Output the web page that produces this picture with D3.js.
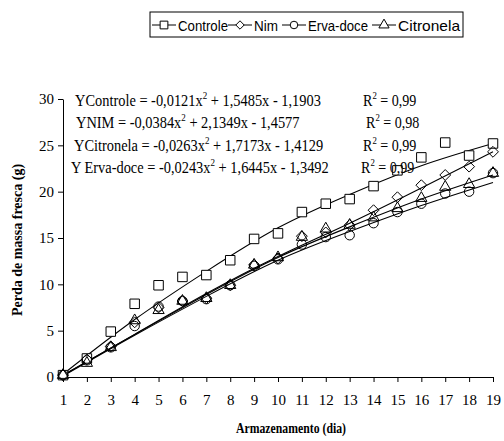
<!DOCTYPE html>
<html><head><meta charset="utf-8">
<script src="https://cdn.jsdelivr.net/npm/d3@7"></script>
<style>body{margin:0;background:#fff}svg{display:block}</style>
</head><body>
<script>
// ---- data ----
const days = [1,2,3,4,5,6,7,8,9,10,11,12,13,14,15,16,17,18,19];
const controle  = [0.2,2.0,4.9,7.9,9.9,10.8,11.0,12.6,14.9,15.5,17.8,18.7,19.2,20.6,22.3,23.7,25.3,23.9,25.2];
const nim       = [0.2,1.9,3.3,5.9,7.5,8.2,8.5,9.9,12.1,12.8,15.2,15.6,16.4,18.0,19.4,20.7,21.8,22.7,24.3];
const ervaDoce  = [0.2,1.8,3.2,5.5,7.6,8.2,8.4,9.9,12.0,12.7,14.3,15.1,15.3,16.6,17.8,18.7,19.8,20.0,22.0];
const citronela = [0.2,1.5,3.2,6.1,7.2,8.2,8.5,9.9,12.1,12.9,15.1,16.0,16.4,17.2,18.2,19.3,20.5,20.8,22.0];
// trendlines
const trendDays      = [1,4,7,10,13,16,19];
const trendControle  = [0.3,6.2,11.4,16.1,19.7,22.8,25.2];
const trendNim       = [0.2,4.6,9.0,13.0,16.6,20.4,24.3];
const trendCitronela = [0.2,4.6,8.9,12.9,16.2,19.2,21.8];
const trendErva      = [0.1,4.5,8.7,12.6,15.7,18.5,21.0];
const yTicks = [0,5,10,15,20,25,30];
const legendNames = ["Controle","Nim","Erva-doce","Citronela"];
const equations = [
  {lhs:"YControle = -0,0121x", rest:" + 1,5485x - 1,1903", r2:"0,99"},
  {lhs:"YNIM = -0,0384x", rest:" + 2,1349x - 1,4577", r2:"0,98"},
  {lhs:"YCitronela = -0,0263x", rest:" + 1,7173x - 1,4129", r2:"0,99"},
  {lhs:"Y Erva-doce = -0,0243x", rest:" + 1,6445x - 1,3492", r2:"0,99"}
];
const xTitle = "Armazenamento (dia)";
const yTitle = "Perda de massa fresca (g)";

// ---- layout ----
const W = 504, H = 441;
const svg = d3.select("body").append("svg").attr("width", W).attr("height", H);
const x = d3.scaleLinear().domain([1,19]).range([63,493]);
const y = d3.scaleLinear().domain([0,30]).range([377,99]);
const serif = "'Liberation Serif','Times New Roman',serif";
const sans = "'Liberation Sans',Arial,sans-serif";

// axes
const xAxis = d3.axisBottom(x).tickValues(days).tickSize(5).tickSizeOuter(0).tickPadding(12).tickFormat(d3.format("d"));
const gx = svg.append("g").attr("transform","translate(0,377)").call(xAxis);
gx.selectAll("text").attr("font-family", serif).attr("font-size", 15).attr("fill","#000");
gx.selectAll("line,path").attr("stroke","#000");
const yAxis = d3.axisLeft(y).tickValues(yTicks).tickSize(5).tickSizeOuter(0).tickPadding(4);
const gy = svg.append("g").attr("transform","translate(63,0)").call(yAxis);
gy.selectAll("text").attr("font-family", serif).attr("font-size", 15).attr("fill","#000");
gy.selectAll("line,path").attr("stroke","#000");

// titles
svg.append("text").attr("x",236).attr("y",433)
  .attr("textLength",110).attr("lengthAdjust","spacingAndGlyphs")
  .attr("font-family",serif).attr("font-weight","bold").attr("font-size",15).text(xTitle);
svg.append("text").attr("transform","translate(22,240) rotate(-90)").attr("text-anchor","middle")
  .attr("font-family",serif).attr("font-weight","bold").attr("font-size",14).text(yTitle);

// trendlines
const line = d3.line().x((d,i)=>x(trendDays[i])).y(d=>y(d)).curve(d3.curveNatural);
[trendControle, trendNim, trendCitronela, trendErva].forEach(t=>{
  svg.append("path").attr("d", line(t)).attr("fill","none").attr("stroke","#000").attr("stroke-width",1.1);
});

// markers
const symType = {"Controle":d3.symbolSquare,"Nim":d3.symbolDiamond2,"Erva-doce":d3.symbolCircle,"Citronela":d3.symbolTriangle};
const symSize = {"Controle":90,"Nim":75,"Erva-doce":70,"Citronela":55};
const seriesList = [["Controle",controle],["Nim",nim],["Erva-doce",ervaDoce],["Citronela",citronela]];
seriesList.forEach(([name, vals])=>{
  svg.append("g").selectAll("path").data(vals).join("path")
    .attr("d", d3.symbol().type(symType[name]).size(symSize[name])())
    .attr("transform",(d,i)=>`translate(${x(days[i])},${y(d)})`)
    .attr("fill", name==="Controle" ? "#fff" : "none")
    .attr("stroke","#000").attr("stroke-width",1);
});

// equations
const eqG = svg.append("g").attr("font-family",serif).attr("font-size",16).attr("fill","#000");
const eqX = [75,76,74,71], eqY = [106,128,151,173], r2X = [363,366,363,361];
equations.forEach((e,i)=>{
  const t = eqG.append("text").attr("transform",`translate(${eqX[i]},${eqY[i]}) scale(0.9,1)`).attr("fill","#000");
  t.append("tspan").text(e.lhs);
  t.append("tspan").attr("font-size",10).attr("dy",-7).text("2");
  t.append("tspan").attr("dy",7).text(e.rest);
  const r = eqG.append("text").attr("transform",`translate(${r2X[i]},${eqY[i]}) scale(0.88,1)`).attr("fill","#000");
  r.append("tspan").text("R");
  r.append("tspan").attr("font-size",10).attr("dy",-7).text("2");
  r.append("tspan").attr("dy",7).text(" = " + e.r2);
});

// legend
const lg = svg.append("g");
lg.append("rect").attr("x",150).attr("y",12).attr("width",313).attr("height",25)
  .attr("fill","#fff").attr("stroke","#000").attr("stroke-width",1);
const legX = [152, 228, 282, 372];
const legTextW = [50, 24, 60, 62];
legendNames.forEach((n,i)=>{
  const g = lg.append("g").attr("transform",`translate(${legX[i]},25)`);
  g.append("line").attr("x1",0).attr("x2",24).attr("y1",0).attr("y2",0).attr("stroke","#000");
  g.append("path").attr("d", d3.symbol().type(symType[n]).size(n==="Controle"?60:45)())
    .attr("transform","translate(12,0)").attr("fill","#fff").attr("stroke","#000");
  g.append("text").attr("x",26).attr("y",6).attr("font-family",sans).attr("font-size",15)
    .attr("textLength",legTextW[i]).attr("lengthAdjust","spacingAndGlyphs").text(n);
});
</script>
</body></html>
